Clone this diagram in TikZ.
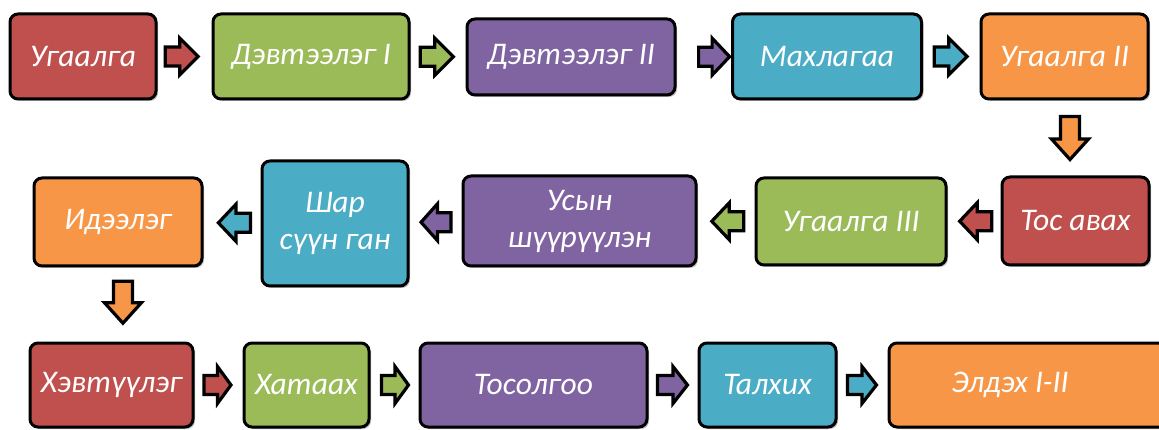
\documentclass[tikz,border=0pt]{standalone}
\usepackage{fontspec}
\setmainfont{Carlito}
\usetikzlibrary{calc,shadows}
\definecolor{cRed}{HTML}{C0504D}
\definecolor{cGreen}{HTML}{9BBB59}
\definecolor{cPurple}{HTML}{8064A2}
\definecolor{cBlue}{HTML}{4BACC6}
\definecolor{cOrange}{HTML}{F79646}
\tikzset{
  box/.style={draw=black, line width=3pt, rounded corners=8pt, text=white,
    font=\fontsize{31.5}{37}\selectfont\itshape, align=center, inner sep=0pt, outer sep=0pt,
    drop shadow={shadow xshift=2pt, shadow yshift=-2pt, opacity=0.25, fill=black}},
  arrowline/.style={draw=black, line width=3.2pt, line join=miter},
  pics/barrow/.style n args={3}{code={
    \draw[arrowline,fill=#1] (-#2/2+1.5,-9.5) -- (#2/2-#3,-9.5) -- (#2/2-#3,-18.5) -- (#2/2-1.5,0)
      -- (#2/2-#3,18.5) -- (#2/2-#3,9.5) -- (-#2/2+1.5,9.5) -- cycle;}}
}
\begin{document}
\begin{tikzpicture}[x=1pt,y=-1pt]
\useasboundingbox (0,0) rectangle (1159,430);
% row 1
\node[box, fill=cRed,    minimum width=146, minimum height=85] (A) at (83,56.5) {Угаалга};
\node[box, fill=cGreen,  minimum width=196, minimum height=85] (B) at (311,56.5) {Дэвтээлэг I};
\node[box, fill=cPurple, minimum width=208, minimum height=76] (C) at (571,57) {Дэвтээлэг II};
\node[box, fill=cBlue,   minimum width=189, minimum height=85] (D) at (827,56.5) {Махлагаа};
\node[box, fill=cOrange, minimum width=167, minimum height=85] (E) at (1064.5,56.5) {Угаалга II};
% row 2
\node[box, fill=cRed,    minimum width=147, minimum height=88] (F) at (1075.5,221) {Тос авах};
\node[box, fill=cGreen,  minimum width=190, minimum height=87] (G) at (851,221.5) {Угаалга III};
\node[box, fill=cPurple, minimum width=233, minimum height=90] (H) at (579.5,221) {Усын\\шүүрүүлэн};
\node[box, fill=cBlue,   minimum width=146, minimum height=125] (I) at (335,223.5) {Шар\\сүүн ган};
\node[box, fill=cOrange, minimum width=168, minimum height=88] (J) at (118,222) {Идээлэг};
% row 3
\node[box, fill=cRed,    minimum width=163, minimum height=84] (K) at (111.5,385) {Хэвтүүлэг};
\node[box, fill=cGreen,  minimum width=125, minimum height=84] (L) at (306.5,385) {Хатаах};
\node[box, fill=cPurple, minimum width=227, minimum height=84] (M) at (533.5,385) {Тосолгоо};
\node[box, fill=cBlue,   minimum width=137, minimum height=84] (N) at (767.5,385) {Талхих};
\node[box, fill=cOrange, minimum width=280, minimum height=84] (O) at (1029,385) {Элдэх I-II\hspace{38pt}};
% arrows row 1
\path ($(A.east)!0.45!(B.west)$) pic {barrow={cRed}{36}{20}};
\path ($(B.east)!0.48!(C.west)$) pic {barrow={cGreen}{36}{20}};
\path ($(C.east)!0.68!(D.west)$) pic {barrow={cPurple}{34}{19}};
\path ($(D.east)!0.49!(E.west)$) pic {barrow={cBlue}{36}{20}};
% down arrow
\path ($(E.south)!0.5!(F.north)$) pic[rotate=-90] {barrow={cOrange}{46}{22}};
% arrows row 2
\path ($(F.west)!0.47!(G.east)$) pic[rotate=180] {barrow={cRed}{35}{19}};
\path ($(G.west)!0.47!(H.east)$) pic[rotate=180] {barrow={cGreen}{35}{19}};
\path ($(H.west)!0.49!(I.east)$) pic[rotate=180] {barrow={cPurple}{33}{18}};
\path ($(I.west)!0.46!(J.east)$) pic[rotate=180] {barrow={cBlue}{35}{19}};
% down arrow
\path ($(J.south)!0.47!(K.north)$) ++(8,0) pic[rotate=-90] {barrow={cOrange}{45}{22}};
% arrows row 3
\path ($(K.east)!0.48!(L.west)$) pic {barrow={cRed}{30}{15}};
\path ($(L.east)!0.51!(M.west)$) pic {barrow={cGreen}{30}{15}};
\path ($(M.east)!0.49!(N.west)$) pic {barrow={cPurple}{33}{16}};
\path ($(N.east)!0.49!(O.west)$) pic {barrow={cBlue}{32}{16}};
\end{tikzpicture}
\end{document}
